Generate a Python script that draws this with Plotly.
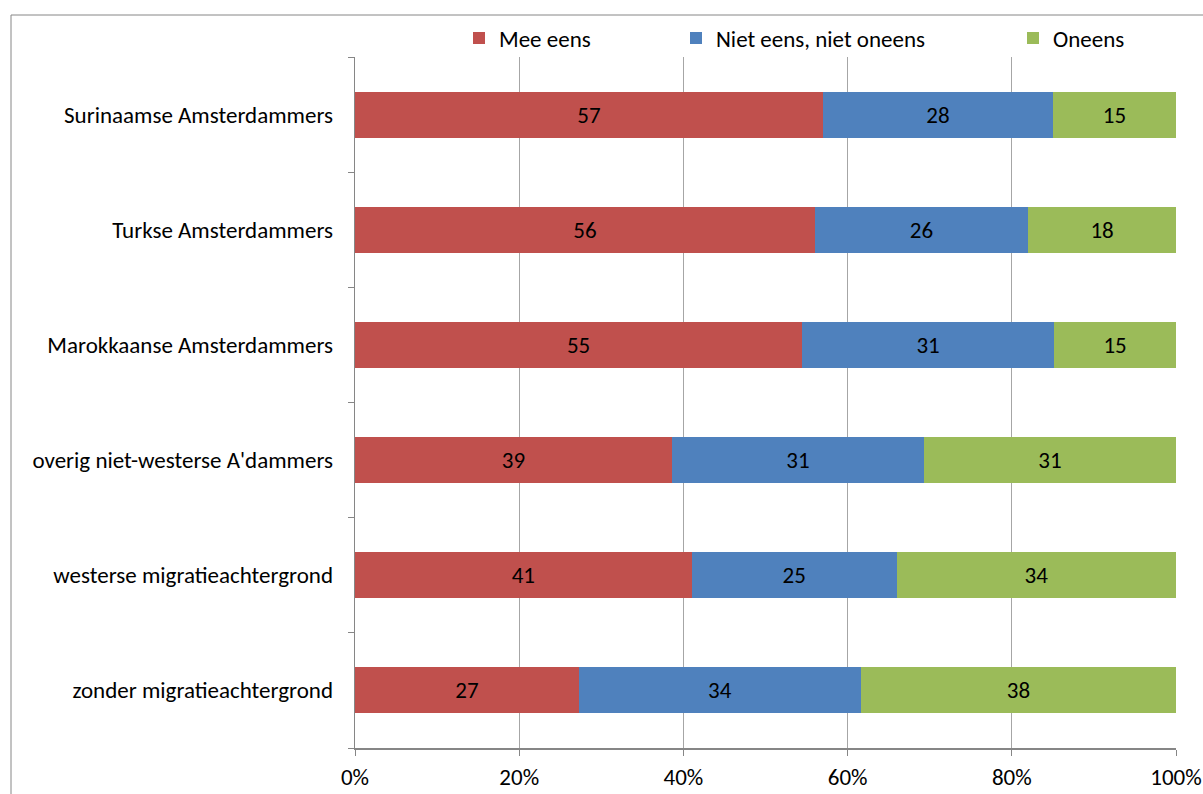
import plotly.graph_objects as go

categories = [
    "Surinaamse Amsterdammers",
    "Turkse Amsterdammers",
    "Marokkaanse Amsterdammers",
    "overig niet-westerse A'dammers",
    "westerse migratieachtergrond",
    "zonder migratieachtergrond",
]
series_names = ["Mee eens", "Niet eens, niet oneens", "Oneens"]
mee_eens = [57, 56, 55, 39, 41, 27]
neutraal = [28, 26, 31, 31, 25, 34]
oneens = [15, 18, 15, 31, 34, 38]
x_tick_vals = [0, 20, 40, 60, 80, 100]
x_tick_text = ["0%", "20%", "40%", "60%", "80%", "100%"]

colors = ["#C0504D", "#4F81BD", "#9BBB59"]
FONT = "Carlito, Lato, 'Open Sans', sans-serif"
FS = 23

n = len(categories)
ypos = list(range(n - 1, -1, -1))  # first category on top

fig = go.Figure()
legends = ["legend", "legend2", "legend3"]
for name, vals, col, lg in zip(series_names, [mee_eens, neutraal, oneens], colors, legends):
    fig.add_trace(go.Bar(
        y=ypos, x=vals, name=name, orientation="h",
        marker=dict(color=col, line=dict(width=0)),
        text=[str(v) for v in vals], textposition="inside",
        insidetextanchor="middle",
        textfont=dict(color="black", size=FS, family=FONT),
        width=0.4, legend=lg, hoverinfo="skip",
    ))

# invisible trace for the category-label axis
fig.add_trace(go.Scatter(y=ypos, x=[0] * n, yaxis="y2", mode="markers",
                         marker=dict(opacity=0), showlegend=False, hoverinfo="skip"))

ml, mr, mt, mb = 355, 27, 57, 46
W, H = 1203, 794
pw, ph = W - ml - mr, H - mt - mb

def px_x(p):
    return (p - ml) / pw

def px_y(p):
    return (H - mb - p) / ph

legend_common = dict(orientation="h", yanchor="middle", xanchor="left",
                     font=dict(size=FS, family=FONT, color="black"),
                     bgcolor="rgba(0,0,0,0)", itemwidth=30,
                     xref="paper", yref="paper")

fig.update_layout(
    width=W, height=H,
    margin=dict(l=ml, r=mr, t=mt, b=mb, autoexpand=False),
    paper_bgcolor="white", plot_bgcolor="white",
    barmode="stack", barnorm="percent",
    font=dict(family=FONT, size=FS, color="black"),
    legend=dict(**legend_common, x=px_x(459), y=px_y(38)),
    legend2=dict(**legend_common, x=px_x(676), y=px_y(38)),
    legend3=dict(**legend_common, x=px_x(1013), y=px_y(38)),
    xaxis=dict(range=[0, 100], tickvals=x_tick_vals, ticktext=x_tick_text,
               showgrid=True, gridcolor="#A6A6A6", gridwidth=1,
               showline=True, linecolor="#868686", linewidth=2,
               ticks="outside", ticklen=6, tickcolor="#868686",
               ticklabelstandoff=1,
               tickfont=dict(size=FS, family=FONT), zeroline=False,
               fixedrange=True),
    yaxis=dict(range=[-0.5, n - 0.5], tickvals=[i - 0.5 for i in range(n + 1)],
               showticklabels=False, ticks="outside", ticklen=6, tickcolor="#868686",
               showline=True, linecolor="#868686", linewidth=1,
               showgrid=False, zeroline=False),
    yaxis2=dict(range=[-0.5, n - 0.5], overlaying="y", side="left",
                tickvals=ypos, ticktext=categories, ticks="", showline=False,
                showgrid=False, zeroline=False, ticklabelstandoff=21,
                tickfont=dict(size=FS, family=FONT, color="black")),
    shapes=[dict(type="rect", xref="paper", yref="paper",
                 x0=px_x(11), x1=px_x(1215), y0=px_y(810), y1=px_y(15),
                 line=dict(color="#868686", width=1), fillcolor="rgba(0,0,0,0)",
                 layer="below")],
)

fig.write_html("out.html", config={"displayModeBar": False},
               post_script="document.body.style.margin='0';document.body.style.overflow='hidden';")
